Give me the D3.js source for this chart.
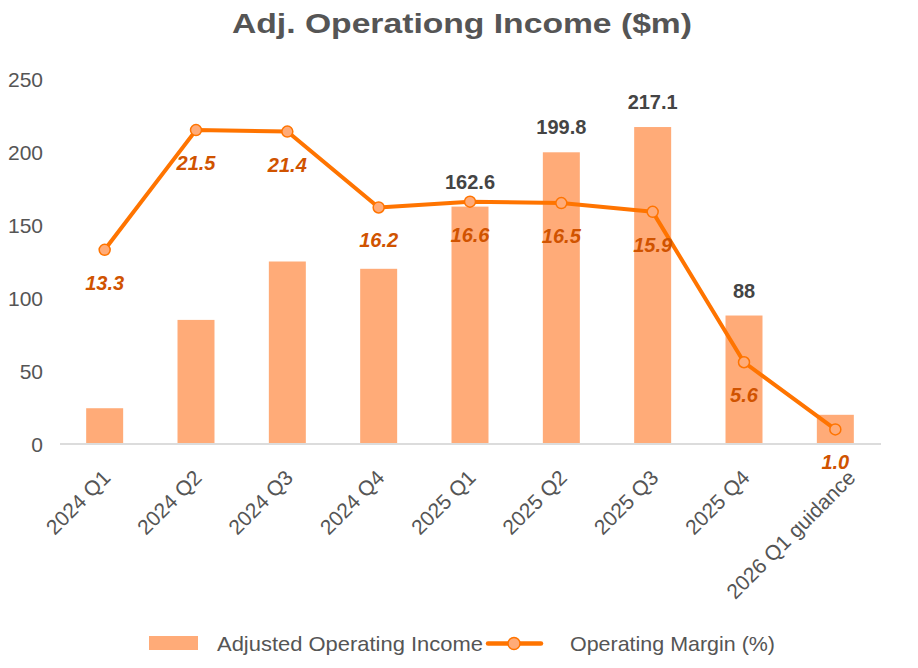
<!DOCTYPE html>
<html>
<script src="https://d3js.org/d3.v7.min.js"></script>
<style>
body {margin:0; background:#fff;}
text {font-family: "Liberation Sans", Arial, Helvetica, sans-serif;}
</style>
<body>
<svg width=918 height=668></svg>
<script>
    // values
    const quarters = ["2024 Q1", "2024 Q2", "2024 Q3", "2024 Q4", "2025 Q1",
                      "2025 Q2", "2025 Q3", "2025 Q4", "2026 Q1 guidance"];
    const incomeValues = [24.5, 85, 125, 120, 162.6, 199.8, 217.1, 88, 20];
    const incomeLabels = ["", "", "", "", "162.6", "199.8", "217.1", "88", ""];
    const marginValues = [13.3, 21.5, 21.4, 16.2, 16.6, 16.5, 15.9, 5.6, 1.0];
    const yTicks = [0, 50, 100, 150, 200, 250];

    const barColor = "#ffab78",
        lineColor = "#ff7400",
        markerFill = "#ffab78",
        marginText = "#d05300",
        greyText = "#555";

    const svg = d3.select("svg");

    const x = d3.scaleBand()
            .domain(quarters)
            .range([59, 881])
            .paddingInner(0.595)
            .paddingOuter(0.2975);
    const cx = d => x(d) + x.bandwidth() / 2;

    const y = d3.scaleLinear()
            .domain([0, 250])
            .range([444, 79]);

    // margin (%) uses a hidden right axis, 0-25
    const y2 = d3.scaleLinear()
            .domain([0, 25])
            .range([444, 79]);

    // title
    svg.append("text")
        .attr("x", 232)
        .attr("y", 33)
        .attr("textLength", 460)
        .attr("lengthAdjust", "spacingAndGlyphs")
        .style("font-size", "28px")
        .style("font-weight", "bold")
        .style("fill", greyText)
        .text("Adj. Operationg Income ($m)");

    // y axis
    const yAxis = d3.axisLeft(y)
            .tickValues(yTicks)
            .tickSize(0)
            .tickPadding(0);
    const gy = svg.append("g")
            .attr("transform", "translate(43,0)")
            .call(yAxis);
    gy.select(".domain").remove();
    gy.selectAll("text")
        .style("font-family", "'Liberation Sans', Arial, sans-serif")
        .style("font-size", "21px")
        .style("fill", greyText)
        .attr("dy", "0.36em");

    // bars
    svg.selectAll("rect.bar")
        .data(quarters)
        .enter().append("rect")
        .attr("class", "bar")
        .attr("x", d => x(d))
        .attr("width", x.bandwidth())
        .attr("y", (d, i) => y(incomeValues[i]))
        .attr("height", (d, i) => y(0) - y(incomeValues[i]))
        .style("fill", barColor);

    // x axis
    const xAxis = d3.axisBottom(x)
            .tickSize(0)
            .tickSizeOuter(0);
    const gx = svg.append("g")
            .attr("transform", "translate(0,444)")
            .call(xAxis);
    gx.select(".domain")
        .attr("d", "M60,0H881")
        .style("stroke", "#dcdcdc")
        .style("stroke-width", 2);
    gx.selectAll("text")
        .attr("y", null)
        .attr("dy", null)
        .style("text-anchor", "end")
        .style("font-family", "'Liberation Sans', Arial, sans-serif")
        .style("font-size", "21px")
        .style("fill", greyText)
        .attr("transform", function() {
            // long labels sit a little further right, as in the source
            const w = this.getComputedTextLength();
            const extra = Math.max(0, w - 100) * 0.2;
            return "translate(" + (7 + extra) + ",35) rotate(-45)";
        });

    // bar value labels
    svg.selectAll("text.barlabel")
        .data(quarters)
        .enter().append("text")
        .attr("class", "barlabel")
        .attr("x", d => cx(d))
        .attr("y", (d, i) => y(incomeValues[i]) - 18)
        .attr("text-anchor", "middle")
        .style("font-size", "20px")
        .style("font-weight", "bold")
        .style("fill", "#444")
        .text((d, i) => incomeLabels[i]);

    // margin line
    const line = d3.line()
            .x(d => cx(d))
            .y((d, i) => y2(marginValues[i]));
    svg.append("path")
        .datum(quarters)
        .attr("d", line)
        .style("fill", "none")
        .style("stroke", lineColor)
        .style("stroke-width", 4)
        .style("stroke-linejoin", "round");

    svg.selectAll("circle.pt")
        .data(quarters)
        .enter().append("circle")
        .attr("class", "pt")
        .attr("cx", d => cx(d))
        .attr("cy", (d, i) => y2(marginValues[i]))
        .attr("r", 5.5)
        .style("fill", markerFill)
        .style("stroke", lineColor)
        .style("stroke-width", 1.5);

    svg.selectAll("text.mlabel")
        .data(quarters)
        .enter().append("text")
        .attr("class", "mlabel")
        .attr("x", d => cx(d))
        .attr("y", (d, i) => y2(marginValues[i]) + 40)
        .attr("text-anchor", "middle")
        .style("font-size", "20px")
        .style("font-weight", "bold")
        .style("font-style", "italic")
        .style("fill", marginText)
        .text((d, i) => marginValues[i].toFixed(1));

    // legend
    const lg = svg.append("g");
    lg.append("rect")
        .attr("x", 149).attr("y", 636)
        .attr("width", 49).attr("height", 14)
        .style("fill", barColor);
    lg.append("text")
        .attr("x", 217).attr("y", 651)
        .attr("textLength", 266)
        .attr("lengthAdjust", "spacingAndGlyphs")
        .style("font-size", "21px")
        .style("fill", greyText)
        .text("Adjusted Operating Income");
    lg.append("line")
        .attr("x1", 488).attr("x2", 541)
        .attr("y1", 643.5).attr("y2", 643.5)
        .style("stroke", lineColor)
        .style("stroke-width", 4.5)
        .style("stroke-linecap", "round");
    lg.append("circle")
        .attr("cx", 514).attr("cy", 643.5).attr("r", 6)
        .style("fill", markerFill)
        .style("stroke", lineColor)
        .style("stroke-width", 1.5);
    lg.append("text")
        .attr("x", 570).attr("y", 651)
        .attr("textLength", 205)
        .attr("lengthAdjust", "spacingAndGlyphs")
        .style("font-size", "21px")
        .style("fill", greyText)
        .text("Operating Margin (%)");
</script>
</body>
</html>
